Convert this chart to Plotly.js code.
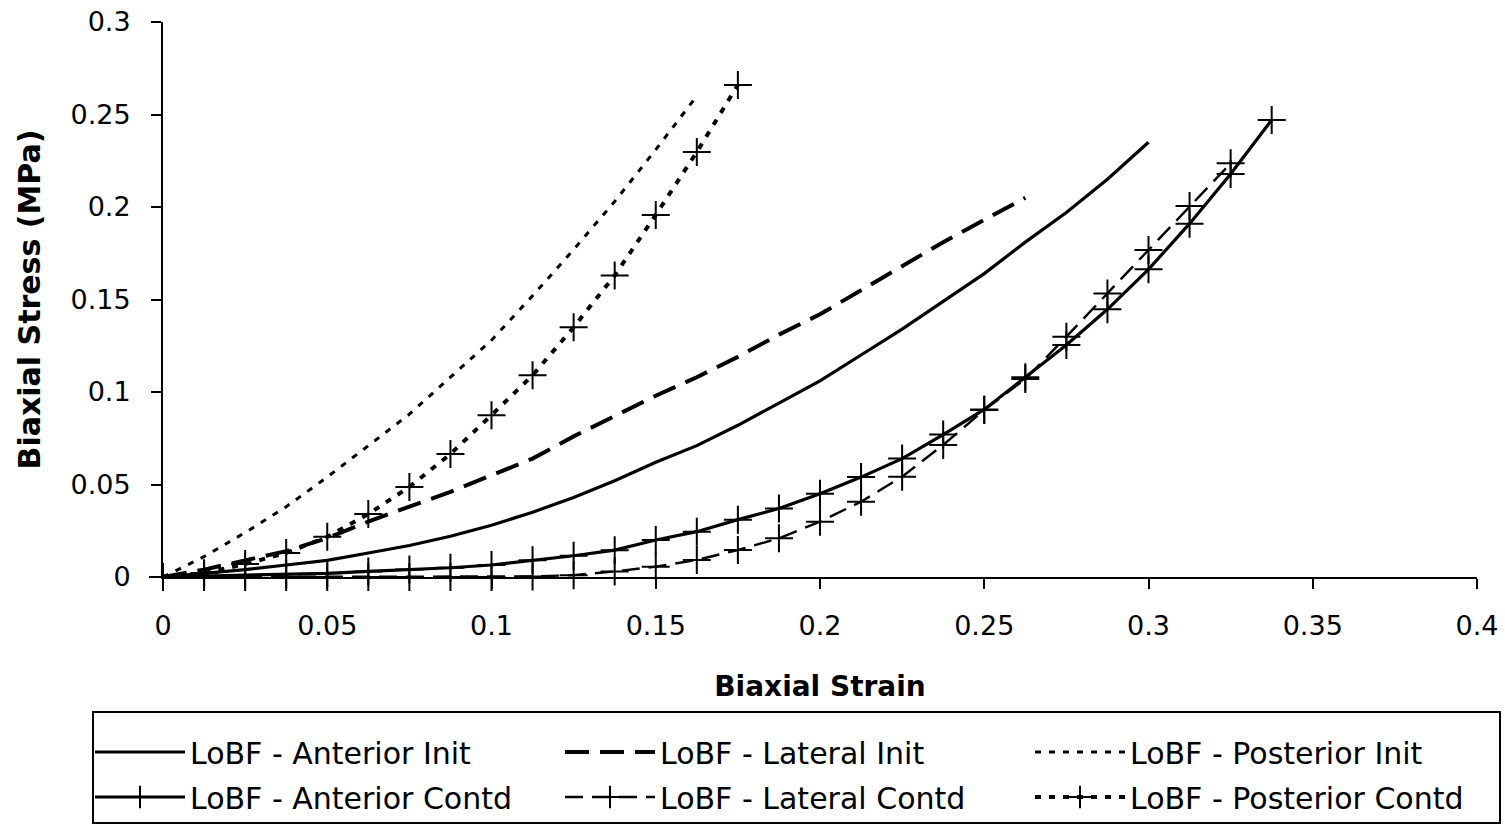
<!DOCTYPE html>
<html>
<head>
<meta charset="utf-8">
<script src="https://cdn.plot.ly/plotly-3.0.1.min.js"></script>
<style>
  html, body { margin: 0; padding: 0; background: #fff; }
  #chart { width: 1505px; height: 824px; }
</style>
</head>
<body>
<div id="chart"></div>
<script>
// Strain sample points (shared by every fitted curve)
const strainSteps = [0, 0.0125, 0.025, 0.0375, 0.05, 0.0625, 0.075, 0.0875, 0.1, 0.1125,
  0.125, 0.1375, 0.15, 0.1625, 0.175, 0.1875, 0.2, 0.2125, 0.225, 0.2375,
  0.25, 0.2625, 0.275, 0.2875, 0.3, 0.3125, 0.325, 0.3375];

// Biaxial stress (MPa), lines of best fit
const anteriorInit = [0, 0.002, 0.004, 0.0065, 0.009, 0.013, 0.017, 0.022, 0.028, 0.035,
  0.043, 0.052, 0.062, 0.071, 0.082, 0.094, 0.106, 0.120, 0.134, 0.149,
  0.164, 0.181, 0.197, 0.215, 0.235];
const lateralInit = [0, 0.004, 0.009, 0.014, 0.021, 0.030, 0.038, 0.046, 0.055, 0.064,
  0.076, 0.087, 0.098, 0.108, 0.119, 0.131, 0.142, 0.155, 0.168, 0.181,
  0.193, 0.205];
const posteriorInit = [0, 0.011, 0.024, 0.038, 0.054, 0.071, 0.088, 0.108, 0.128, 0.152,
  0.177, 0.203, 0.231, 0.260];
const anteriorContd = [0, 0.0005, 0.001, 0.0015, 0.002, 0.003, 0.004, 0.005, 0.0065, 0.009,
  0.0115, 0.0145, 0.020, 0.0245, 0.031, 0.037, 0.045, 0.054, 0.064, 0.077,
  0.0906, 0.108, 0.1254, 0.1447, 0.1663, 0.191, 0.2178, 0.247];
const lateralContd = [0, 0, 0, 0, 0, 0, 0, 0, 0, 0.0003,
  0.001, 0.003, 0.0056, 0.0092, 0.0146, 0.0209, 0.0299, 0.0407, 0.0542, 0.0714,
  0.0903, 0.107, 0.1299, 0.1533, 0.1768, 0.2005, 0.2236];
const posteriorContd = [0, 0.002, 0.007, 0.013, 0.0217, 0.034, 0.0487, 0.0665, 0.0875, 0.109,
  0.135, 0.163, 0.1957, 0.2297, 0.266];

const seriesNames = [
  'LoBF - Anterior Init', 'LoBF - Lateral Init', 'LoBF - Posterior Init',
  'LoBF - Anterior Contd', 'LoBF - Lateral Contd', 'LoBF - Posterior Contd'
];

// Axis tick values and labels
const xTickVals = [0, 0.05, 0.1, 0.15, 0.2, 0.25, 0.3, 0.35, 0.4];
const xTickText = ['0', '0.05', '0.1', '0.15', '0.2', '0.25', '0.3', '0.35', '0.4'];
const yTickVals = [0, 0.05, 0.1, 0.15, 0.2, 0.25, 0.3];
const yTickText = ['0', '0.05', '0.1', '0.15', '0.2', '0.25', '0.3'];

const FONT = 'DejaVu Sans, Verdana, sans-serif';
const W = 1505, H = 824;
const M = { l: 163, r: 28, t: 22, b: 247 };
const plotW = W - M.l - M.r, plotH = H - M.t - M.b;
// pixel -> paper helpers for items placed outside the plotting area
const px = v => (v - M.l) / plotW;
const py = v => (H - M.b - v) / plotH;

function curve(name, y, line, withMarkers, legend) {
  const t = {
    type: 'scatter',
    x: strainSteps.slice(0, y.length),
    y: y,
    name: name,
    mode: withMarkers ? 'lines+markers' : 'lines',
    line: Object.assign({ color: '#000', shape: 'linear' }, line),
    cliponaxis: false,
    legend: legend,
    hoverinfo: 'x+y+name'
  };
  if (withMarkers) {
    t.marker = { symbol: 'cross-thin', size: 20, color: '#000', line: { color: '#000', width: 2 } };
  }
  return t;
}

const traces = [
  curve(seriesNames[0], anteriorInit, { width: 3.2, dash: 'solid' }, false, 'legend'),
  curve(seriesNames[1], lateralInit, { width: 4, dash: '24px,11px' }, false, 'legend'),
  curve(seriesNames[2], posteriorInit, { width: 3, dash: '6px,8px' }, false, 'legend'),
  curve(seriesNames[3], anteriorContd, { width: 3.2, dash: 'solid' }, true, 'legend2'),
  curve(seriesNames[4], lateralContd, { width: 2.4, dash: '18px,9px' }, true, 'legend2'),
  curve(seriesNames[5], posteriorContd, { width: 4, dash: '6px,8px' }, true, 'legend2')
];

// One legend per row: "Init" fits on top, "Contd" fits underneath
const legendCommon = {
  orientation: 'h',
  xanchor: 'left',
  yanchor: 'middle',
  x: px(90),
  entrywidth: 365,
  entrywidthmode: 'pixels',
  itemwidth: 90,
  font: { family: FONT, size: 30, color: '#000' },
  bgcolor: 'rgba(0,0,0,0)',
  borderwidth: 0,
  traceorder: 'normal'
};

const layout = {
  width: W,
  height: H,
  margin: Object.assign({ autoexpand: false }, M),
  paper_bgcolor: '#fff',
  plot_bgcolor: '#fff',
  font: { family: FONT, size: 27, color: '#000' },
  showlegend: true,
  xaxis: {
    range: [0, 0.4],
    tickvals: xTickVals,
    ticktext: xTickText,
    ticks: 'outside',
    ticklen: 10,
    tickwidth: 2,
    tickcolor: '#000',
    ticklabelstandoff: 14,
    showline: true,
    linecolor: '#000',
    linewidth: 2,
    showgrid: false,
    zeroline: false,
    tickfont: { family: FONT, size: 27 },
    title: { text: '<b>Biaxial Strain</b>', font: { family: FONT, size: 28 }, standoff: 36 },
    automargin: false
  },
  yaxis: {
    range: [0, 0.3],
    tickvals: yTickVals,
    ticktext: yTickText,
    ticks: 'outside',
    ticklen: 10,
    tickwidth: 2,
    tickcolor: '#000',
    ticklabelstandoff: 15,
    showline: true,
    linecolor: '#000',
    linewidth: 2,
    showgrid: false,
    zeroline: false,
    tickfont: { family: FONT, size: 27 },
    title: { text: '<b>Biaxial Stress (MPa)</b>', font: { family: FONT, size: 30 }, standoff: 21 },
    automargin: false
  },
  legend: Object.assign({}, legendCommon, { y: py(752) }),
  legend2: Object.assign({}, legendCommon, { y: py(797) }),
  shapes: [{
    type: 'rect',
    xref: 'paper', yref: 'paper',
    x0: px(93), x1: px(1500),
    y0: py(823), y1: py(712),
    line: { color: '#000', width: 2 },
    fillcolor: 'rgba(0,0,0,0)',
    layer: 'above'
  }]
};

Plotly.newPlot('chart', traces, layout, { staticPlot: true, displayModeBar: false });
</script>
</body>
</html>
